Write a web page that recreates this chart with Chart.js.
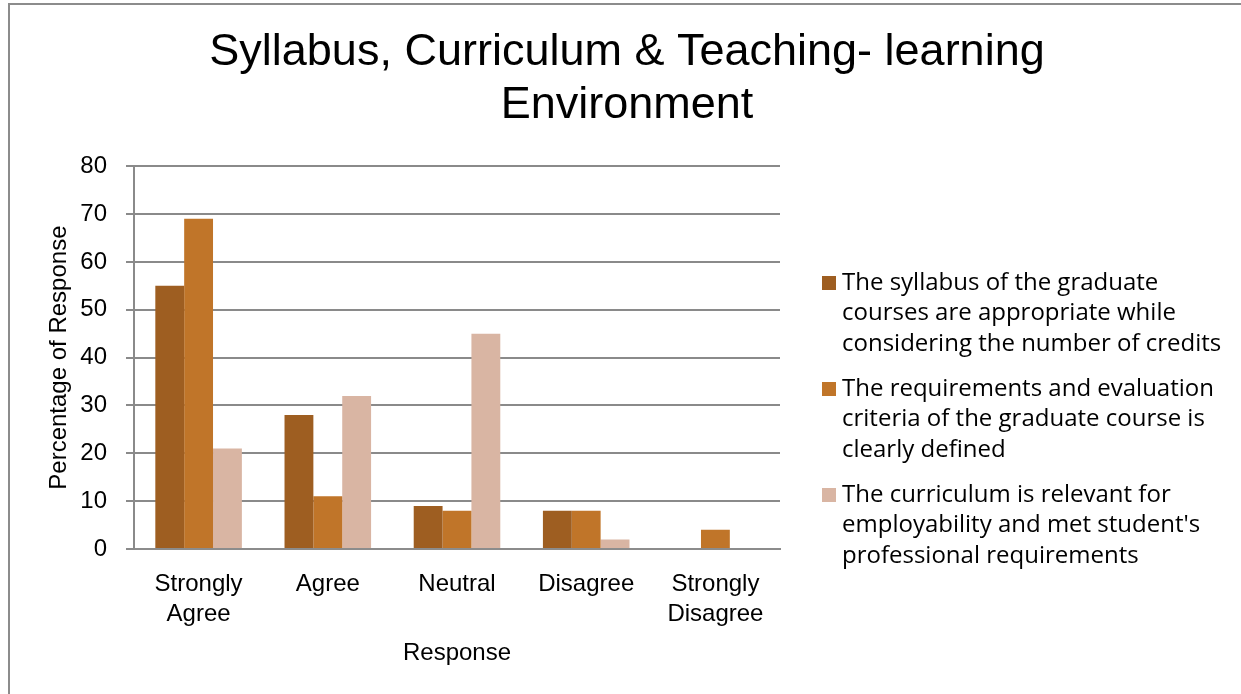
<!DOCTYPE html>
<html>
<head>
<meta charset="utf-8">
<script src="https://cdn.jsdelivr.net/npm/chart.js@4.4.1/dist/chart.umd.min.js"></script>
<style>
  html, body { margin: 0; padding: 0; background: #fff; }
  #wrap { position: relative; width: 1241px; height: 694px; }
  #frame { position: absolute; left: 8px; top: 3px; right: 0; bottom: 0;
           border-top: 2px solid #8c8c8c; border-left: 2px solid #8c8c8c; pointer-events: none; }
</style>
</head>
<body>
<div id="wrap">
  <canvas id="grafico" width="1241" height="694"></canvas>
  <div id="frame"></div>
</div>
<script>
// dados
const categorias = [["Strongly", "Agree"], "Agree", "Neutral", "Disagree", ["Strongly", "Disagree"]];
const serieSyllabus = [55, 28, 9, 8, 0];
const serieRequisitos = [69, 11, 8, 8, 4];
const serieCurriculo = [21, 32, 45, 2, 0];
const nomesSeries = [
    ["The syllabus of the graduate", "courses are appropriate while", "considering the number of credits"],
    ["The requirements and evaluation", "criteria of the graduate course is", "clearly defined"],
    ["The curriculum is relevant for", "employability and met student's", "professional requirements"]
];
const cores = ["#9e5e21", "#c07529", "#d9b5a3"];
const tituloLinhas = ["Syllabus, Curriculum & Teaching- learning", "Environment"];

const fonteNormal = "'Liberation Sans', Arial, sans-serif";
const fonteLegenda = "'Open Sans', 'Liberation Sans', sans-serif";

// legenda desenhada à direita, com quebras de linha
const legendaLateral = {
    id: "legendaLateral",
    afterDraw(chart) {
        const ctx = chart.ctx;
        ctx.save();
        ctx.font = "24px " + fonteLegenda;
        ctx.textBaseline = "middle";
        ctx.textAlign = "left";
        let y = 283;
        nomesSeries.forEach((linhas, i) => {
            ctx.fillStyle = cores[i];
            ctx.fillRect(822, y - 7, 14, 14);
            ctx.fillStyle = "#000";
            linhas.forEach((txt, j) => {
                ctx.fillText(txt, 842, y + j * 30.5);
            });
            y += linhas.length * 30.5 + 14.5;
        });
        ctx.restore();
    }
};

const datasets = [serieSyllabus, serieRequisitos, serieCurriculo].map((valores, i) => ({
    label: nomesSeries[i].join(" "),
    data: valores,
    backgroundColor: cores[i],
    borderWidth: 0,
    barPercentage: 1,
    categoryPercentage: 0.67
}));

new Chart(document.getElementById("grafico"), {
    type: "bar",
    data: { labels: categorias, datasets },
    plugins: [legendaLateral],
    options: {
        responsive: false,
        animation: false,
        layout: { padding: { left: 13, right: 0, top: 0, bottom: 5 } },
        plugins: {
            legend: { display: false },
            tooltip: { enabled: false },
            title: {
                display: true,
                text: tituloLinhas,
                color: "#000",
                font: { family: fonteNormal, size: 45, weight: "normal", lineHeight: 1.18 },
                padding: { top: 26, bottom: 34 }
            }
        },
        scales: {
            x: {
                grid: { display: false },
                border: { display: true, color: "#8c8c8c", width: 2 },
                ticks: {
                    color: "#000",
                    font: { family: fonteNormal, size: 24, lineHeight: 1.25 },
                    padding: 12,
                    maxRotation: 0
                },
                title: {
                    display: true,
                    text: "Response",
                    color: "#000",
                    font: { family: fonteNormal, size: 24 },
                    padding: { top: 0, bottom: 21 }
                },
                afterFit(scale) { scale.height = 140; }
            },
            y: {
                min: 0,
                max: 80,
                ticks: {
                    stepSize: 10,
                    color: "#000",
                    font: { family: fonteNormal, size: 24 },
                    padding: 19
                },
                grid: { color: "#8a8a8a", lineWidth: 2, tickLength: 8 },
                border: { display: true, color: "#8a8a8a", width: 2 },
                title: {
                    display: true,
                    text: "Percentage of Response",
                    color: "#000",
                    font: { family: fonteNormal, size: 24 },
                    padding: { top: 32, bottom: 0 }
                },
                afterFit(scale) { scale.width = 121; }
            },
            // espaço reservado para a legenda lateral
            espacoLegenda: {
                type: "linear",
                position: "right",
                display: true,
                ticks: { display: false },
                grid: { display: false },
                border: { display: false },
                afterFit(scale) { scale.width = 461; }
            }
        }
    }
});
</script>
</body>
</html>
